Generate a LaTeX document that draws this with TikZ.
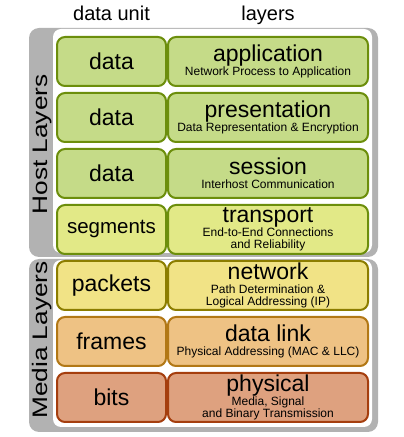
\documentclass[tikz,border=0pt]{standalone}
\usepackage{fontspec}
\setmainfont{Liberation Sans}
\newfontfamily\widefont[FakeStretch=1.25]{Liberation Sans}
\usetikzlibrary{positioning}

\definecolor{panelgrey}{RGB}{178,178,178}
\definecolor{hostfill}{RGB}{197,219,136}
\definecolor{hostline}{RGB}{108,142,12}
\definecolor{transfill}{RGB}{226,233,135}
\definecolor{netfill}{RGB}{241,227,134}
\definecolor{netline}{RGB}{140,125,0}
\definecolor{linkfill}{RGB}{238,194,132}
\definecolor{linkline}{RGB}{178,120,22}
\definecolor{physfill}{RGB}{222,161,127}
\definecolor{physline}{RGB}{165,62,14}

\newcommand{\lyrtitle}[1]{{\fontsize{23}{23}\selectfont #1}}

\begin{document}
\begin{tikzpicture}[x=1pt,y=1pt]
  \tikzstyle{panel} = [fill=panelgrey, rounded corners=10pt]
  \tikzstyle{inner} = [fill=white, rounded corners=8pt]
  \tikzstyle{unitbox} = [rectangle, rounded corners=8pt, line width=2pt, inner sep=0pt,
    minimum width=109pt, minimum height=49pt, font=\fontsize{23}{23}\selectfont]
  \tikzstyle{layerbox} = [unitbox, minimum width=200pt, align=center,
    font=\fontsize{12}{14}\selectfont]
  \tikzstyle{host} = [fill=hostfill, draw=hostline]
  \tikzstyle{trans} = [fill=transfill, draw=hostline]
  \tikzstyle{net} = [fill=netfill, draw=netline]
  \tikzstyle{link} = [fill=linkfill, draw=linkline]
  \tikzstyle{phys} = [fill=physfill, draw=physline]
  \tikzstyle{side} = [rotate=90, anchor=base, font=\widefont\fontsize{21}{21}\selectfont]
  \tikzstyle{head} = [anchor=base, font=\fontsize{20}{20}\selectfont]

  \useasboundingbox (0,0) rectangle (404,437);

  % grey panels with white insides
  \fill[panel] (29,180) rectangle (378,409);
  \fill[inner] (53,184) rectangle (372,408);
  \fill[panel] (29,5) rectangle (378,178);
  \fill[inner] (53,10) rectangle (372,177);

  \node (hostlbl) [side] at (47,292.5) {Host Layers};
  \node (medialbl) [side] at (47,97) {Media Layers};

  % data unit column
  \node (unit1) [unitbox, host] at (111.5,375.5) {data};
  \node (unit2) [unitbox, host, below=5pt of unit1] {data};
  \node (unit3) [unitbox, host, below=5pt of unit2] {data};
  \node (unit4) [unitbox, trans, below=5pt of unit3, font=\fontsize{20.5}{20.5}\selectfont] {segments};
  \node (unit5) [unitbox, net, below=5pt of unit4] {packets};
  \node (unit6) [unitbox, link, below=5pt of unit5] {frames};
  \node (unit7) [unitbox, phys, below=5pt of unit6] {bits};

  % layers column
  \node (layer1) [layerbox, host, right=0pt of unit1] {\lyrtitle{application}\\Network Process to Application};
  \node (layer2) [layerbox, host, right=0pt of unit2] {\lyrtitle{presentation}\\Data Representation \& Encryption};
  \node (layer3) [layerbox, host, right=0pt of unit3] {\lyrtitle{session}\\Interhost Communication};
  \node (layer4) [layerbox, trans, right=0pt of unit4] {\lyrtitle{transport}\\End-to-End Connections\\[-2.5pt]and Reliability};
  \node (layer5) [layerbox, net, right=0pt of unit5] {\lyrtitle{network}\\Path Determination \&\\[-2.5pt]Logical Addressing (IP)};
  \node (layer6) [layerbox, link, right=0pt of unit6] {\lyrtitle{data link}\\Physical Addressing (MAC \& LLC)};
  \node (layer7) [layerbox, phys, right=0pt of unit7] {\lyrtitle{physical}\\Media, Signal\\[-2.5pt]and Binary Transmission};

  % column heads
  \node (unithead) [head] at (unit1.center |- 0,416) {data unit};
  \node (layerhead) [head] at (layer1.center |- 0,416) {layers};
\end{tikzpicture}
\end{document}
